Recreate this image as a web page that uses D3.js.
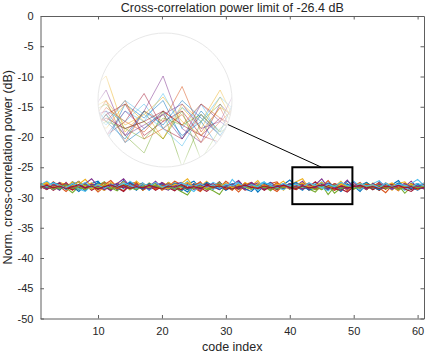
<!DOCTYPE html>
<html><head><meta charset="utf-8">
<script src="https://cdn.jsdelivr.net/npm/d3@7"></script>
<style>body{margin:0;background:#fff}svg{display:block}text{font-family:"Liberation Sans",Arial,Helvetica,sans-serif;fill:#262626}</style>
</head><body><svg id="c" width="426" height="355"></svg>
<script>
const titleText = "Cross-correlation power limit of -26.4 dB";
const xLabel = "code index";
const yLabel = "Norm. cross-correlation power (dB)";
const xTicks = [10, 20, 30, 40, 50, 60];
const yTicks = [0, -5, -10, -15, -20, -25, -30, -35, -40, -45, -50];
const colors = ["#0072BD","#D95319","#EDB120","#7E2F8E","#77AC30","#4DBEEE","#A2142F"];
const codeIndex = d3.range(1, 62);
const zoomBox = {x0: 40.4, x1: 49.8, y0: -31.1, y1: -25.0};

const r1 = [-28.2,-27.5,-28.4,-27.8,-28.6,-27.4,-28.1,-28.9,-27.7,-27.3,
-28.5,-27.9,-28.3,-27.2,-28.7,-28.0,-27.6,-28.8,-27.9,-28.4,
-27.5,-28.2,-29.0,-27.8,-27.3,-28.5,-27.9,-28.6,-27.6,-28.1,
-28.7,-27.4,-28.3,-27.8,-29.1,-28.0,-27.5,-28.4,-27.9,-27.1,
-28.2,-28.8,-27.7,-28.1,-27.6,-28.7,-27.9,-28.5,-27.3,-28.1,
-29.0,-27.8,-28.3,-27.5,-28.6,-27.9,-27.2,-28.5,-28.0,-27.7,
-28.2];
const r2 = [-27.7,-28.5,-27.4,-28.2,-29.0,-28.0,-27.3,-28.4,-27.8,-28.7,
-27.9,-27.2,-28.3,-28.9,-27.7,-27.5,-28.6,-28.0,-27.6,-28.8,
-28.2,-27.3,-27.9,-28.6,-28.1,-27.4,-28.7,-27.8,-28.4,-27.3,
-28.1,-29.1,-27.9,-27.5,-28.3,-28.7,-27.7,-27.4,-28.6,-28.1,
-28.4,-27.6,-28.8,-27.9,-28.2,-27.2,-28.5,-27.8,-28.9,-28.1,
-27.5,-28.6,-27.9,-28.4,-27.6,-28.2,-28.9,-27.7,-28.6,-28.0,
-27.6];
const r3 = [-27.6,-28.1,-28.7,-27.5,-27.9,-28.4,-27.8,-27.0,-28.2,-28.8,
-27.9,-28.5,-27.6,-28.1,-28.7,-27.3,-28.2,-27.8,-28.6,-27.5,
-28.0,-28.8,-27.7,-26.9,-28.3,-28.6,-27.8,-28.2,-27.4,-28.7,
-27.9,-28.5,-27.6,-28.1,-27.2,-28.6,-28.2,-27.7,-28.8,-27.9,
-27.4,-26.9,-28.5,-27.9,-28.7,-27.7,-28.2,-27.3,-28.4,-28.0,
-27.7,-28.7,-27.6,-28.3,-27.9,-28.8,-27.7,-27.4,-28.5,-27.9,
-28.6];
const r4 = [-28.4,-27.7,-28.2,-28.8,-27.5,-28.6,-28.0,-27.7,-26.9,-28.2,
-28.8,-27.9,-28.4,-27.4,-28.1,-28.6,-27.7,-28.2,-27.3,-28.4,
-28.8,-27.9,-27.5,-28.5,-28.0,-28.9,-27.7,-28.3,-27.4,-28.6,
-27.9,-27.2,-28.4,-28.0,-27.6,-28.7,-27.5,-28.2,-28.6,-27.7,
-28.1,-27.3,-28.6,-27.9,-26.9,-28.4,-28.8,-27.7,-28.3,-27.5,
-28.4,-27.9,-28.7,-27.4,-28.1,-27.8,-28.6,-28.2,-27.3,-28.4,
-27.9];
const r5 = [-28.1,-28.7,-27.9,-27.6,-28.4,-29.2,-28.2,-27.7,-28.6,-28.0,
-27.4,-28.4,-28.9,-27.9,-28.3,-27.6,-28.8,-28.1,-27.7,-28.6,
-27.9,-28.4,-29.0,-29.6,-28.1,-27.7,-28.6,-28.2,-27.5,-28.4,
-27.9,-28.7,-28.0,-27.7,-28.6,-28.2,-28.9,-27.9,-28.4,-27.7,
-28.7,-28.0,-28.6,-29.1,-27.9,-29.5,-28.2,-27.7,-28.6,-28.0,
-28.4,-27.5,-28.2,-28.8,-27.9,-28.4,-28.0,-29.3,-28.2,-28.6,
-28.0];
const r6 = [-27.9,-27.3,-28.2,-27.7,-28.6,-28.0,-27.4,-28.4,-27.9,-28.7,
-27.5,-28.2,-27.7,-28.6,-27.3,-28.0,-28.4,-27.6,-28.2,-27.9,
-28.7,-27.7,-28.2,-27.3,-28.6,-27.9,-28.4,-27.5,-28.0,-28.7,
-27.0,-28.2,-27.7,-28.4,-27.9,-27.4,-28.6,-28.0,-27.7,-28.2,
-27.5,-28.7,-27.9,-28.2,-27.4,-28.4,-27.7,-28.6,-28.0,-27.3,
-28.2,-28.7,-27.7,-27.2,-28.4,-27.9,-28.2,-28.8,-27.7,-27.0,
-28.0];
const r7 = [-28.5,-28.0,-28.8,-28.2,-27.7,-28.7,-28.4,-27.9,-28.8,-28.2,
-28.6,-27.7,-28.4,-29.0,-28.0,-28.6,-27.9,-28.7,-28.2,-27.7,
-28.4,-28.9,-28.0,-28.6,-27.9,-28.4,-29.0,-28.2,-28.7,-27.7,
-28.4,-28.0,-28.8,-28.4,-27.9,-28.6,-28.2,-28.7,-28.0,-28.4,
-27.7,-28.6,-28.2,-27.4,-28.4,-28.7,-28.0,-28.6,-29.1,-28.2,
-27.9,-28.6,-28.2,-28.8,-28.0,-28.4,-27.7,-28.6,-29.0,-28.2,
-28.5];
const r8 = [-27.7,-28.4,-28.0,-28.7,-27.9,-28.2,-29.0,-28.0,-28.6,-27.5,
-28.2,-28.7,-27.7,-28.4,-28.0,-28.8,-27.9,-28.6,-28.2,-27.7,
-28.7,-28.0,-28.4,-29.1,-27.9,-28.2,-27.7,-28.6,-28.0,-28.8,
-28.2,-27.9,-28.6,-29.0,-28.0,-28.4,-27.9,-28.7,-28.2,-27.7,
-28.6,-28.0,-28.8,-28.4,-27.9,-28.6,-28.2,-29.0,-27.9,-28.4,
-28.0,-28.7,-27.7,-28.6,-28.2,-27.9,-28.7,-28.0,-28.4,-28.8,
-28.2];
const r9 = [-28.2,-28.7,-27.7,-28.4,-28.0,-28.8,-27.9,-28.6,-28.0,-29.1,
-28.2,-27.7,-28.7,-28.0,-28.4,-27.6,-28.8,-28.2,-28.6,-27.9,
-28.4,-28.0,-28.7,-27.6,-28.4,-29.0,-28.0,-28.6,-27.9,-28.2,
-28.8,-27.7,-28.4,-28.0,-28.7,-27.9,-28.4,-29.0,-28.0,-28.6,
-27.9,-28.2,-27.6,-28.7,-28.4,-28.0,-28.8,-28.2,-27.7,-28.6,
-28.0,-28.7,-27.9,-28.4,-29.2,-28.0,-28.6,-27.7,-28.2,-28.7,
-28.0];
const r10 = [-28.0,-27.5,-28.5,-27.8,-28.3,-27.4,-28.7,-28.0,-27.6,-28.4,
-28.8,-27.8,-28.2,-27.4,-28.5,-28.0,-28.7,-27.6,-28.2,-28.5,
-27.5,-28.0,-28.4,-28.7,-27.7,-28.2,-27.3,-28.5,-27.9,-28.4,
-28.0,-28.7,-27.5,-28.2,-28.6,-27.7,-28.4,-28.0,-27.3,-28.5,
-28.0,-28.4,-27.7,-28.2,-28.7,-27.8,-28.4,-27.5,-28.5,-28.0,
-28.7,-27.7,-28.2,-27.8,-28.6,-28.0,-28.8,-27.6,-28.2,-27.8,
-28.4];
const r11 = [-28.4,-27.9,-28.2,-27.5,-28.6,-28.0,-28.7,-27.7,-28.4,-27.9,
-28.2,-28.9,-27.7,-26.9,-28.2,-27.9,-28.6,-28.0,-28.4,-27.5,
-28.2,-28.7,-27.9,-28.4,-27.7,-28.6,-28.0,-28.2,-28.7,-27.6,
-28.4,-28.0,-28.6,-27.5,-28.2,-27.9,-28.7,-28.0,-28.4,-27.7,
-28.2,-28.6,-27.9,-28.4,-28.0,-28.7,-27.7,-28.2,-27.1,-28.4,
-28.0,-28.6,-27.7,-28.2,-27.9,-28.7,-28.0,-28.4,-27.7,-28.2,
-28.6];
const r12 = [-27.9,-28.4,-28.0,-28.6,-27.7,-28.2,-28.7,-27.9,-28.4,-28.0,
-27.7,-28.6,-28.2,-27.9,-28.7,-28.0,-28.4,-27.7,-28.2,-28.6,
-27.9,-28.4,-28.0,-28.7,-28.2,-27.7,-28.4,-28.9,-29.5,-28.0,
-28.6,-27.9,-28.2,-27.7,-28.4,-28.0,-28.7,-28.2,-27.9,-28.6,
-28.0,-27.7,-28.4,-28.2,-28.7,-27.9,-29.3,-28.4,-28.0,-28.6,
-27.7,-28.2,-28.7,-28.0,-28.4,-27.9,-28.6,-28.2,-27.7,-28.4,
-28.0];
const r13 = [-28.2,-27.7,-28.7,-28.0,-28.4,-27.9,-28.6,-29.0,-28.0,-27.7,
-28.4,-28.0,-28.7,-28.2,-27.7,-28.6,-28.0,-28.8,-27.9,-28.2,
-27.7,-28.6,-28.0,-28.4,-29.0,-27.9,-28.2,-28.7,-27.7,-28.4,
-28.0,-28.6,-27.9,-28.2,-28.8,-28.0,-27.7,-28.4,-28.7,-28.0,
-28.6,-27.9,-28.2,-27.7,-28.4,-28.9,-28.0,-28.6,-27.9,-28.2,
-28.7,-28.0,-28.4,-27.7,-28.2,-28.6,-27.9,-28.4,-28.7,-28.0,
-27.7];
const r14 = [-28.0,-28.6,-28.2,-27.7,-28.4,-28.7,-28.0,-28.4,-27.9,-28.6,
-28.2,-28.7,-28.0,-28.4,-27.7,-28.2,-28.6,-28.0,-28.8,-28.2,
-27.9,-28.4,-28.7,-28.0,-28.6,-28.2,-27.7,-28.4,-28.0,-28.7,
-28.2,-28.6,-27.9,-28.4,-28.0,-28.8,-28.2,-28.6,-27.9,-28.4,
-28.7,-28.0,-27.7,-28.6,-28.2,-27.9,-28.6,-28.8,-28.2,-28.0,
-28.4,-27.9,-28.7,-28.2,-28.6,-27.7,-28.4,-28.0,-28.7,-28.2,
-27.9];
const r15 = [-27.8,-28.3,-27.5,-28.1,-28.6,-27.9,-27.4,-28.5,-28.1,-27.6,
-28.3,-27.8,-28.7,-28.0,-27.5,-28.2,-28.6,-27.7,-28.3,-27.9,
-28.5,-27.6,-28.1,-28.7,-27.8,-28.3,-27.5,-28.0,-28.6,-28.2,
-27.7,-28.4,-27.9,-28.7,-28.1,-27.6,-28.3,-27.8,-28.5,-28.0,
-27.5,-28.2,-28.7,-27.9,-28.3,-27.6,-28.1,-28.6,-27.8,-28.4,
-28.0,-27.5,-28.3,-28.7,-27.9,-28.2,-27.6,-28.1,-28.5,-27.8,
-28.3];
const r16 = [-28.3,-27.8,-28.5,-28.1,-27.6,-28.4,-28.0,-28.7,-27.8,-28.3,
-27.5,-28.1,-28.6,-28.0,-28.4,-27.7,-28.3,-27.9,-28.6,-28.1,
-27.7,-28.3,-27.9,-28.5,-28.0,-27.6,-28.4,-28.1,-27.8,-28.6,
-28.0,-28.3,-27.7,-28.1,-28.5,-27.9,-28.2,-27.6,-28.4,-28.0,
-28.6,-27.8,-28.2,-28.5,-27.9,-28.3,-27.7,-28.1,-28.6,-28.0,
-28.4,-27.8,-28.1,-27.6,-28.4,-28.0,-28.6,-28.2,-27.8,-28.3,
-28.0];
const r17 = [-28.1,-27.6,-28.3,-27.9,-28.5,-28.0,-27.4,-28.2,-28.6,-27.8,
-28.1,-27.5,-28.3,-27.9,-28.6,-28.1,-27.7,-28.4,-27.9,-28.2,
-28.6,-27.8,-28.0,-27.5,-28.3,-28.1,-28.5,-27.8,-28.2,-27.6,
-28.4,-27.9,-28.3,-28.6,-27.7,-28.0,-28.4,-27.8,-28.1,-28.5,
-27.9,-27.6,-28.3,-28.0,-27.5,-28.2,-28.6,-27.8,-28.1,-28.4,
-27.7,-28.2,-27.9,-28.5,-28.0,-27.6,-28.3,-28.1,-27.8,-28.6,
-28.0];
const r18 = [-28.2,-28.6,-27.9,-28.3,-27.7,-28.5,-28.1,-28.4,-27.8,-28.2,
-28.7,-28.0,-27.7,-28.3,-28.5,-27.9,-28.2,-28.6,-28.0,-27.6,
-28.3,-28.1,-27.8,-28.4,-28.6,-27.9,-28.2,-27.7,-28.5,-28.1,
-27.9,-28.4,-28.2,-27.6,-28.3,-28.6,-28.0,-28.2,-27.8,-28.5,
-28.1,-27.9,-28.6,-28.3,-28.0,-27.7,-28.4,-28.2,-28.6,-27.9,
-28.3,-28.0,-28.5,-27.8,-28.2,-28.6,-28.0,-27.7,-28.3,-28.1,
-28.4];
const r19 = [-28.4,-28.1,-28.6,-28.2,-27.9,-28.5,-28.2,-28.7,-28.0,-28.4,
-28.1,-28.6,-28.3,-27.9,-28.4,-28.7,-28.1,-28.3,-28.0,-28.5,
-28.2,-28.6,-28.0,-28.3,-28.5,-28.1,-28.7,-28.3,-28.0,-28.4,
-28.6,-28.1,-28.3,-28.5,-28.0,-28.4,-28.2,-28.6,-28.3,-28.0,
-28.5,-28.2,-28.4,-28.7,-28.1,-28.3,-28.0,-28.5,-28.2,-28.6,
-28.3,-28.1,-28.4,-28.0,-28.5,-28.2,-28.7,-28.3,-28.1,-28.4,
-28.2];
const r20 = [-27.8,-28.2,-27.6,-28.0,-28.4,-27.7,-28.1,-27.5,-28.3,-27.9,
-28.5,-27.8,-28.2,-27.6,-28.0,-28.4,-27.7,-28.1,-27.5,-28.3,
-27.9,-28.4,-27.6,-28.0,-28.2,-27.7,-28.3,-27.9,-28.5,-27.8,
-28.1,-27.6,-28.3,-27.9,-28.2,-27.5,-28.0,-28.4,-27.7,-28.1,
-27.8,-28.3,-27.6,-28.0,-28.4,-27.8,-28.2,-27.5,-28.0,-28.3,
-27.7,-28.1,-27.9,-28.4,-27.6,-28.2,-27.8,-28.0,-28.3,-27.7,
-28.1];
const r21 = [-28.3,-28.0,-28.4,-28.1,-28.5,-28.2,-27.9,-28.4,-28.1,-28.6,
-28.2,-27.9,-28.3,-28.0,-28.5,-28.2,-28.4,-28.0,-28.3,-28.6,
-28.1,-28.3,-27.9,-28.4,-28.2,-28.5,-28.0,-28.3,-28.1,-28.4,
-28.6,-28.2,-28.0,-28.3,-28.5,-28.1,-28.4,-28.2,-28.0,-28.3,
-28.5,-28.1,-28.4,-28.2,-27.9,-28.3,-28.6,-28.1,-28.4,-28.2,
-28.0,-28.4,-28.2,-28.5,-28.1,-28.3,-28.0,-28.4,-28.2,-28.6,
-28.3];
const seriesList = [r1,r2,r3,r4,r5,r6,r7,r8,r9,r10,r11,r12,r13,r14,r15,r16,r17,r18,r19,r20,r21];

const svg = d3.select("#c");
const L = 40.5, R = 424, T = 16, B = 318.5;
const x = d3.scaleLinear().domain([1, 61]).range([L, R]);
const y = d3.scaleLinear().domain([-50, 0]).range([B, T]);

const defs = svg.append("defs");
defs.append("clipPath").attr("id","plotClip").append("rect")
  .attr("x",L).attr("y",T).attr("width",R-L).attr("height",B-T);

// lines
const line = d3.line().x((d,i)=>x(codeIndex[i])).y(d=>y(d));
svg.append("g").attr("clip-path","url(#plotClip)")
  .selectAll("path").data(seriesList).join("path")
  .attr("d", line).attr("fill","none")
  .attr("stroke",(d,i)=>colors[i%colors.length]).attr("stroke-width",1.1);

// axes
const axisCol = "#5e5e5e";
const gx = svg.append("g").attr("transform",`translate(0,${B})`)
  .call(d3.axisBottom(x).tickValues(xTicks).tickSizeInner(-3.5).tickSizeOuter(0).tickPadding(9));
const gxt = svg.append("g").attr("transform",`translate(0,${T})`)
  .call(d3.axisTop(x).tickValues(xTicks).tickSizeInner(-3.5).tickSizeOuter(0).tickFormat(""));
const gy = svg.append("g").attr("transform",`translate(${L},0)`)
  .call(d3.axisLeft(y).tickValues(yTicks).tickSizeInner(-3.5).tickSizeOuter(0).tickPadding(7));
const gyr = svg.append("g").attr("transform",`translate(${R},0)`)
  .call(d3.axisRight(y).tickValues(yTicks).tickSizeInner(-3.5).tickSizeOuter(0).tickFormat(""));
[gx,gxt,gy,gyr].forEach(g=>{
  g.select(".domain").attr("stroke",axisCol).attr("stroke-width",1);
  g.selectAll(".tick line").attr("stroke",axisCol);
  g.selectAll(".tick text").attr("fill","#262626").style("font-size","11px")
   .style("font-family",'"Liberation Sans",Arial,sans-serif');
});
gy.selectAll(".tick text").text(d=>String(d));

// labels
svg.append("text").attr("x",(L+R)/2).attr("y",11.5).attr("text-anchor","middle")
  .style("font-size","12.5px").text(titleText);
svg.append("text").attr("x",(L+R)/2).attr("y",351).attr("text-anchor","middle")
  .style("font-size","12.5px").text(xLabel);
svg.append("text").attr("transform",`translate(11.5,${(T+B)/2}) rotate(-90)`)
  .attr("text-anchor","middle").style("font-size","12.5px").text(yLabel);

// zoom rectangle
svg.append("rect").attr("x",x(zoomBox.x0)).attr("y",y(zoomBox.y1))
  .attr("width",x(zoomBox.x1)-x(zoomBox.x0)).attr("height",y(zoomBox.y0)-y(zoomBox.y1))
  .attr("fill","none").attr("stroke","#000").attr("stroke-width",2);

// inset
const cx = 165, cy = 100, cr = 67;
const xIn = d3.scaleLinear().domain([45.1, 46.1]).range([cx, cx+19]);
const yIn = d3.scaleLinear().domain([-28.1, -27.1]).range([cy+18, cy-17]);
svg.append("line").attr("x1",224.5).attr("y1",123).attr("x2",321.5).attr("y2",y(zoomBox.y1))
  .attr("stroke","#000").attr("stroke-width",1);
defs.append("clipPath").attr("id","circClip").append("circle").attr("cx",cx).attr("cy",cy).attr("r",cr);
const rg = defs.append("radialGradient").attr("id","fade");
rg.append("stop").attr("offset","0.8").attr("stop-color","#fff").attr("stop-opacity",0);
rg.append("stop").attr("offset","1").attr("stop-color","#fff").attr("stop-opacity",0.75);
svg.append("circle").attr("cx",cx).attr("cy",cy).attr("r",cr).attr("fill","#fff");
const lineIn = d3.line().x((d,i)=>xIn(codeIndex[i])).y(d=>yIn(d));
svg.append("g").attr("clip-path","url(#circClip)")
  .selectAll("path").data(seriesList).join("path")
  .attr("d", lineIn).attr("fill","none")
  .attr("stroke",(d,i)=>colors[i%colors.length]).attr("stroke-width",1).attr("stroke-opacity",0.5);
svg.append("circle").attr("cx",cx).attr("cy",cy).attr("r",cr).attr("fill","url(#fade)")
  .attr("stroke","#e8e8e8").attr("stroke-width",1);
</script></body></html>
